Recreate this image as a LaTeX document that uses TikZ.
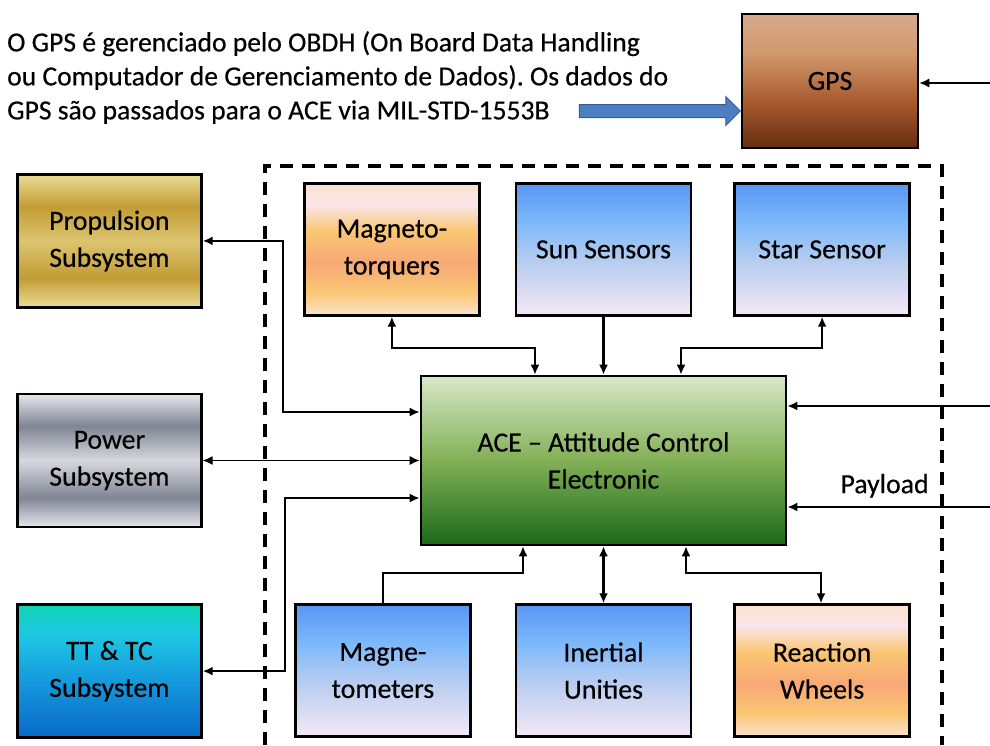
\documentclass[tikz,border=0pt]{standalone}
\usepackage{fontspec}
\setmainfont{Carlito}[FakeBold=0.4]
\usepackage{xcolor}
\usetikzlibrary{arrows.meta, positioning, shapes.arrows}
\frenchspacing

% colours
\definecolor{gpsTop}{RGB}{214,170,142}
\definecolor{gpsTan}{RGB}{208,152,108}
\definecolor{gpsMid}{RGB}{168,88,45}
\definecolor{gpsBot}{RGB}{100,46,16}
\definecolor{goldLt}{RGB}{234,220,150}
\definecolor{goldDk}{RGB}{194,156,52}
\definecolor{goldMd}{RGB}{220,196,112}
\definecolor{greyLt}{RGB}{230,232,236}
\definecolor{greyDk}{RGB}{128,133,148}
\definecolor{greyMd}{RGB}{214,216,222}
\definecolor{tealTop}{RGB}{15,212,178}
\definecolor{tealCy}{RGB}{30,200,228}
\definecolor{tealMd}{RGB}{22,150,220}
\definecolor{tealBot}{RGB}{8,105,200}
\definecolor{orPale}{RGB}{250,226,205}
\definecolor{orPink}{RGB}{250,230,235}
\definecolor{orOrange}{RGB}{250,198,115}
\definecolor{orSalmon}{RGB}{247,168,118}
\definecolor{skyTop}{RGB}{88,150,245}
\definecolor{skyMid}{RGB}{125,185,250}
\definecolor{skyLow}{RGB}{185,205,240}
\definecolor{skyBot}{RGB}{246,232,246}
\definecolor{aceTop}{RGB}{216,232,200}
\definecolor{aceMid}{RGB}{130,176,86}
\definecolor{aceBot}{RGB}{26,104,26}
\definecolor{flowFill}{RGB}{76,126,192}
\definecolor{flowEdge}{RGB}{52,92,150}

% shadings (bottom to top, 25bp..75bp fills the box)
\pgfdeclareverticalshading{gpsshade}{100bp}{color(0bp)=(gpsBot); color(25bp)=(gpsBot); color(42bp)=(gpsMid); color(60bp)=(gpsTan); color(75bp)=(gpsTop); color(100bp)=(gpsTop)}
\pgfdeclareverticalshading{goldshade}{100bp}{color(0bp)=(goldLt); color(25bp)=(goldLt); color(36bp)=(goldDk); color(50bp)=(goldMd); color(63bp)=(goldDk); color(75bp)=(goldLt); color(100bp)=(goldLt)}
\pgfdeclareverticalshading{greyshade}{100bp}{color(0bp)=(greyLt); color(25bp)=(greyLt); color(36bp)=(greyDk); color(50bp)=(greyMd); color(63bp)=(greyDk); color(75bp)=(greyLt); color(100bp)=(greyLt)}
\pgfdeclareverticalshading{tealshade}{100bp}{color(0bp)=(tealBot); color(25bp)=(tealBot); color(45bp)=(tealMd); color(64bp)=(tealCy); color(75bp)=(tealTop); color(100bp)=(tealTop)}
\pgfdeclareverticalshading{orangeshade}{100bp}{color(0bp)=(orPale); color(25bp)=(orPale); color(34bp)=(orOrange); color(45bp)=(orSalmon); color(57bp)=(orOrange); color(67bp)=(orPink); color(75bp)=(orPale); color(100bp)=(orPale)}
\pgfdeclareverticalshading{skyshade}{100bp}{color(0bp)=(skyBot); color(25bp)=(skyBot); color(45bp)=(skyLow); color(60bp)=(skyMid); color(75bp)=(skyTop); color(100bp)=(skyTop)}
\pgfdeclareverticalshading{greenshade}{100bp}{color(0bp)=(aceBot); color(25bp)=(aceBot); color(50bp)=(aceMid); color(75bp)=(aceTop); color(100bp)=(aceTop)}

\begin{document}
\begin{tikzpicture}[
			x=1pt, y=-1pt,
			>={Latex[length=10pt,width=9pt]},
			every node/.style={align=center, font=\fontsize{27.8}{37}\selectfont},
			block/.style={draw, line width=2.6pt, minimum width=175pt, minimum height=132pt},
			subsys/.style={block, minimum width=184pt, minimum height=133pt},
			note/.style={align=left, inner sep=0pt, font=\fontsize{27.6}{34}\selectfont},
			flow/.style={single arrow, draw=flowEdge, fill=flowFill, line width=1pt, inner sep=6pt,
				single arrow head extend=8pt, minimum height=161pt},
			link/.style={line width=2.1pt},
			thinlink/.style={line width=1.3pt},
			fence/.style={line width=3.6pt, dash pattern=on 13pt off 9pt}
			]
			\useasboundingbox (0,0) rectangle (990,745);
			
			% Nodes
			\node (ace) [block, shading=greenshade, minimum width=365pt, minimum height=169pt] at (603.5,460.5) {ACE -- Attitude Control\\Electronic};
			\node (sun) [block, shading=skyshade, above=58pt of ace] {Sun Sensors};
			\node (mtq) [block, shading=orangeshade, left=34pt of sun] {Magneto-\\torquers};
			\node (star) [block, shading=skyshade, right=41pt of sun] {Star Sensor};
			\node (imu) [block, shading=skyshade, below=57pt of ace] {Inertial\\Unities};
			\node (mgm) [block, shading=skyshade, left=43pt of imu] {Magne-\\tometers};
			\node (rw) [block, shading=orangeshade, right=41pt of imu] {Reaction\\Wheels};
			\node (pow) [subsys, shading=greyshade, left=217pt of ace] {Power\\Subsystem};
			\node (prop) [subsys, shading=goldshade, above=84pt of pow] {Propulsion\\Subsystem};
			\node (ttc) [subsys, shading=tealshade, below=75pt of pow] {TT \& TC\\Subsystem};
			\node (gps) [block, shading=gpsshade, minimum width=176pt, minimum height=134pt] at (830,81) {GPS};
			\node (obdhnote) [note, anchor=north west] at (7,31) {O GPS é gerenciado pelo OBDH (On Board Data Handling\\ou Computador de Gerenciamento de Dados). Os dados do\\GPS são passados para o ACE via MIL-STD-1553B};
			\node (gpsflow) [flow] at (656.5,111) {};
			\coordinate (gpsin) at (990,83);
			\coordinate (obdhin) at (990,406);
			\coordinate (payin) at (990,507);
			
			% Dashed frame
			\draw [fence] (265,745) -- (265,166) -- (942,166) -- (942,745);
			
			% Connections
			\draw [thinlink, ->] (gpsin) -- (gpsin -| gps.east);
			\draw [link, <->] (mtq.south) |- (535,348) -- (ace.north -| 535,0);
			\draw [link, ->] (sun.south) -- (sun.south |- ace.north);
			\draw [link, <->] (star.south) |- (681,348) -- (ace.north -| 681,0);
			\draw [link, <->] (prop.east) -| (283,412) -- (ace.west |- 0,412);
			\draw [thinlink, <->] (pow.east) -- (ace.west);
			\draw [link, <->] (ttc.east) -| (285,498) -- (ace.west |- 0,498);
			\draw [link, ->] (obdhin) -- (obdhin -| ace.east);
			\draw [link, ->] (payin) -- node [pos=0.52, above=5pt] {Payload} (payin -| ace.east);
			\draw [link, ->] (mgm.north) |- (523,573) -- (ace.south -| 523,0);
			\draw [link, <->] (imu.north) -- (imu.north |- ace.south);
			\draw [link, <->] (ace.south -| 686,0) |- (821,573) -- (rw.north -| 821,0);
			
		\end{tikzpicture}
\end{document}
